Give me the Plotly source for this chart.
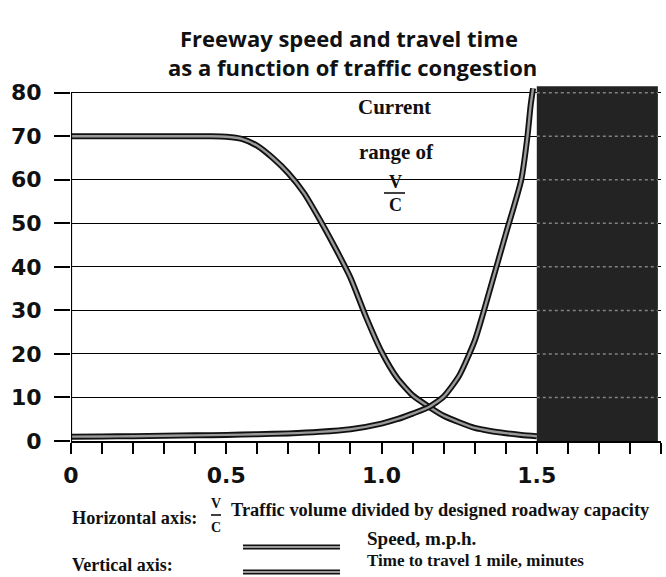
import plotly.graph_objects as go

# ---- data ----
x_speed = [0.0, 0.3, 0.45, 0.5, 0.55, 0.6, 0.65, 0.7, 0.75, 0.8, 0.85, 0.9, 0.95, 1.0,
           1.05, 1.1, 1.15, 1.2, 1.25, 1.3, 1.35, 1.4, 1.45, 1.5]
speed = [70, 70, 70, 69.9, 69.4, 67.8, 65, 61.5, 57, 51, 44.5, 37.5, 28.5, 20.5,
         14.5, 10.5, 8.0, 5.8, 4.3, 3.0, 2.3, 1.8, 1.4, 1.1]

x_time = [0.0, 0.1, 0.2, 0.3, 0.4, 0.5, 0.6, 0.7, 0.8, 0.9, 1.0, 1.05, 1.1,
          1.15, 1.2, 1.25, 1.3, 1.33, 1.35, 1.4, 1.45, 1.47, 1.48, 1.488]
time_min = [1.0, 1.05, 1.1, 1.2, 1.3, 1.4, 1.55, 1.75, 2.1, 2.7, 4.0, 5.0, 6.3,
            7.7, 10.2, 15, 23, 30, 35, 47.5, 60, 70, 77, 81]

y_tick_vals = [0, 10, 20, 30, 40, 50, 60, 70, 80]
x_tick_vals = [0, 0.1, 0.2, 0.3, 0.4, 0.5, 0.6, 0.7, 0.8, 0.9, 1.0,
               1.1, 1.2, 1.3, 1.4, 1.5, 1.6, 1.7, 1.8, 1.9]
x_tick_text = ["0", "", "", "", "", "0.5", "", "", "", "", "1.0",
               "", "", "", "", "1.5", "", "", "", ""]

congested_x = [1.5, 1.89]
congested_top = 81.5

# ---- layout geometry (pixels) ----
W, H = 666, 577
ML, MR, MT, MB = 71, 5, 84, 136
PW, PH = W - ML - MR, H - MT - MB


def px(X, Y):
    return (X - ML) / PW, (H - MB - Y) / PH


fig = go.Figure()

# curves: dark outline + grey core
for xs, ys in [(x_speed, speed), (x_time, time_min)]:
    fig.add_trace(go.Scatter(x=xs, y=ys, mode="lines",
                             line=dict(color="#111111", width=6, shape="spline", smoothing=0.6),
                             hoverinfo="skip", showlegend=False))
    fig.add_trace(go.Scatter(x=xs, y=ys, mode="lines",
                             line=dict(color="#9a9a9a", width=2.4, shape="spline", smoothing=0.6),
                             hoverinfo="skip", showlegend=False))

shapes = []
# dark congested region
shapes.append(dict(type="rect", xref="x", yref="y", x0=congested_x[0], x1=congested_x[1],
                   y0=0, y1=congested_top, fillcolor="#232323", line=dict(width=0),
                   layer="between"))
# faint grid inside dark region
for v in y_tick_vals[1:]:
    shapes.append(dict(type="line", xref="x", yref="y", x0=congested_x[0], x1=congested_x[1],
                       y0=v, y1=v, line=dict(color="rgba(210,210,210,0.55)", width=1.5, dash="dot"),
                       layer="above"))
# vertical axis line up to 80
shapes.append(dict(type="line", xref="x", yref="y", x0=0, x1=0, y0=0, y1=y_tick_vals[-1],
                   line=dict(color="black", width=2.2), layer="above"))

# legend samples
for Y in (547, 572):
    a0 = px(243, Y)
    a1 = px(340, Y)
    shapes.append(dict(type="line", xref="paper", yref="paper", x0=a0[0], x1=a1[0], y0=a0[1], y1=a1[1],
                       line=dict(color="#111111", width=5)))
    shapes.append(dict(type="line", xref="paper", yref="paper", x0=a0[0], x1=a1[0], y0=a0[1], y1=a1[1],
                       line=dict(color="#9a9a9a", width=2)))

# V/C bars
for (X0, X1, Y) in [(384, 405, 193), (211, 221, 515)]:
    a0 = px(X0, Y)
    a1 = px(X1, Y)
    shapes.append(dict(type="line", xref="paper", yref="paper", x0=a0[0], x1=a1[0], y0=a0[1], y1=a1[1],
                       line=dict(color="black", width=1.5)))

ann = []
serif = "Liberation Serif"


def add_text(text, X, Y, size, family, xanchor="center", color="#111111", weight="bold"):
    p = px(X, Y)
    ann.append(dict(text=text, x=p[0], y=p[1], xref="paper", yref="paper", showarrow=False,
                    xanchor=xanchor, yanchor="middle",
                    font=dict(family=family, size=size, color=color, weight=weight)))


add_text("Freeway speed and travel time", 349, 38, 22, "Open Sans", weight="bold")
add_text("as a function of traffic congestion", 352, 67, 22, "Open Sans", weight="bold")

add_text("Current", 394, 107, 21, serif)
add_text("range of", 396, 152, 21, serif)
add_text("V", 395, 182, 18, serif)
add_text("C", 395, 205, 18, serif)

add_text("Horizontal axis:", 70, 518, 18.3, serif, xanchor="left")
add_text("V", 216, 503, 14, serif)
add_text("C", 216, 527, 14, serif)
add_text("Traffic volume divided by designed roadway capacity", 229, 510, 18.4, serif, xanchor="left")
add_text("Speed, m.p.h.", 365, 538, 19, serif, xanchor="left")
add_text("Vertical axis:", 70, 565, 18, serif, xanchor="left")
add_text("Time to travel 1 mile, minutes", 365, 560, 17, serif, xanchor="left")

fig.update_layout(
    width=W, height=H,
    margin=dict(l=ML, r=MR, t=MT, b=MB, pad=0),
    paper_bgcolor="white", plot_bgcolor="white",
    shapes=shapes, annotations=ann,
    showlegend=False,
    xaxis=dict(range=[0, 1.9], tickvals=x_tick_vals, ticktext=x_tick_text,
               ticks="outside", ticklen=11, tickwidth=2, tickcolor="black",
               showline=True, linecolor="black", linewidth=2.2,
               showgrid=False, zeroline=False,
               tickfont=dict(family="DejaVu Sans", size=22, color="#111111", weight="bold"),
               ticklabelstandoff=2),
    yaxis=dict(range=[0, 82], tickvals=y_tick_vals,
               ticks="outside", ticklen=16, tickwidth=1.6, tickcolor="black",
               showline=False, showgrid=True, gridcolor="black", gridwidth=1.3,
               zeroline=False,
               tickfont=dict(family="DejaVu Sans", size=22, color="#111111", weight="bold"),
               ticklabelstandoff=8),
)

fig.write_html("out.html", config={"displayModeBar": False},
               post_script="document.body.style.margin='0';document.body.style.overflow='hidden';")
